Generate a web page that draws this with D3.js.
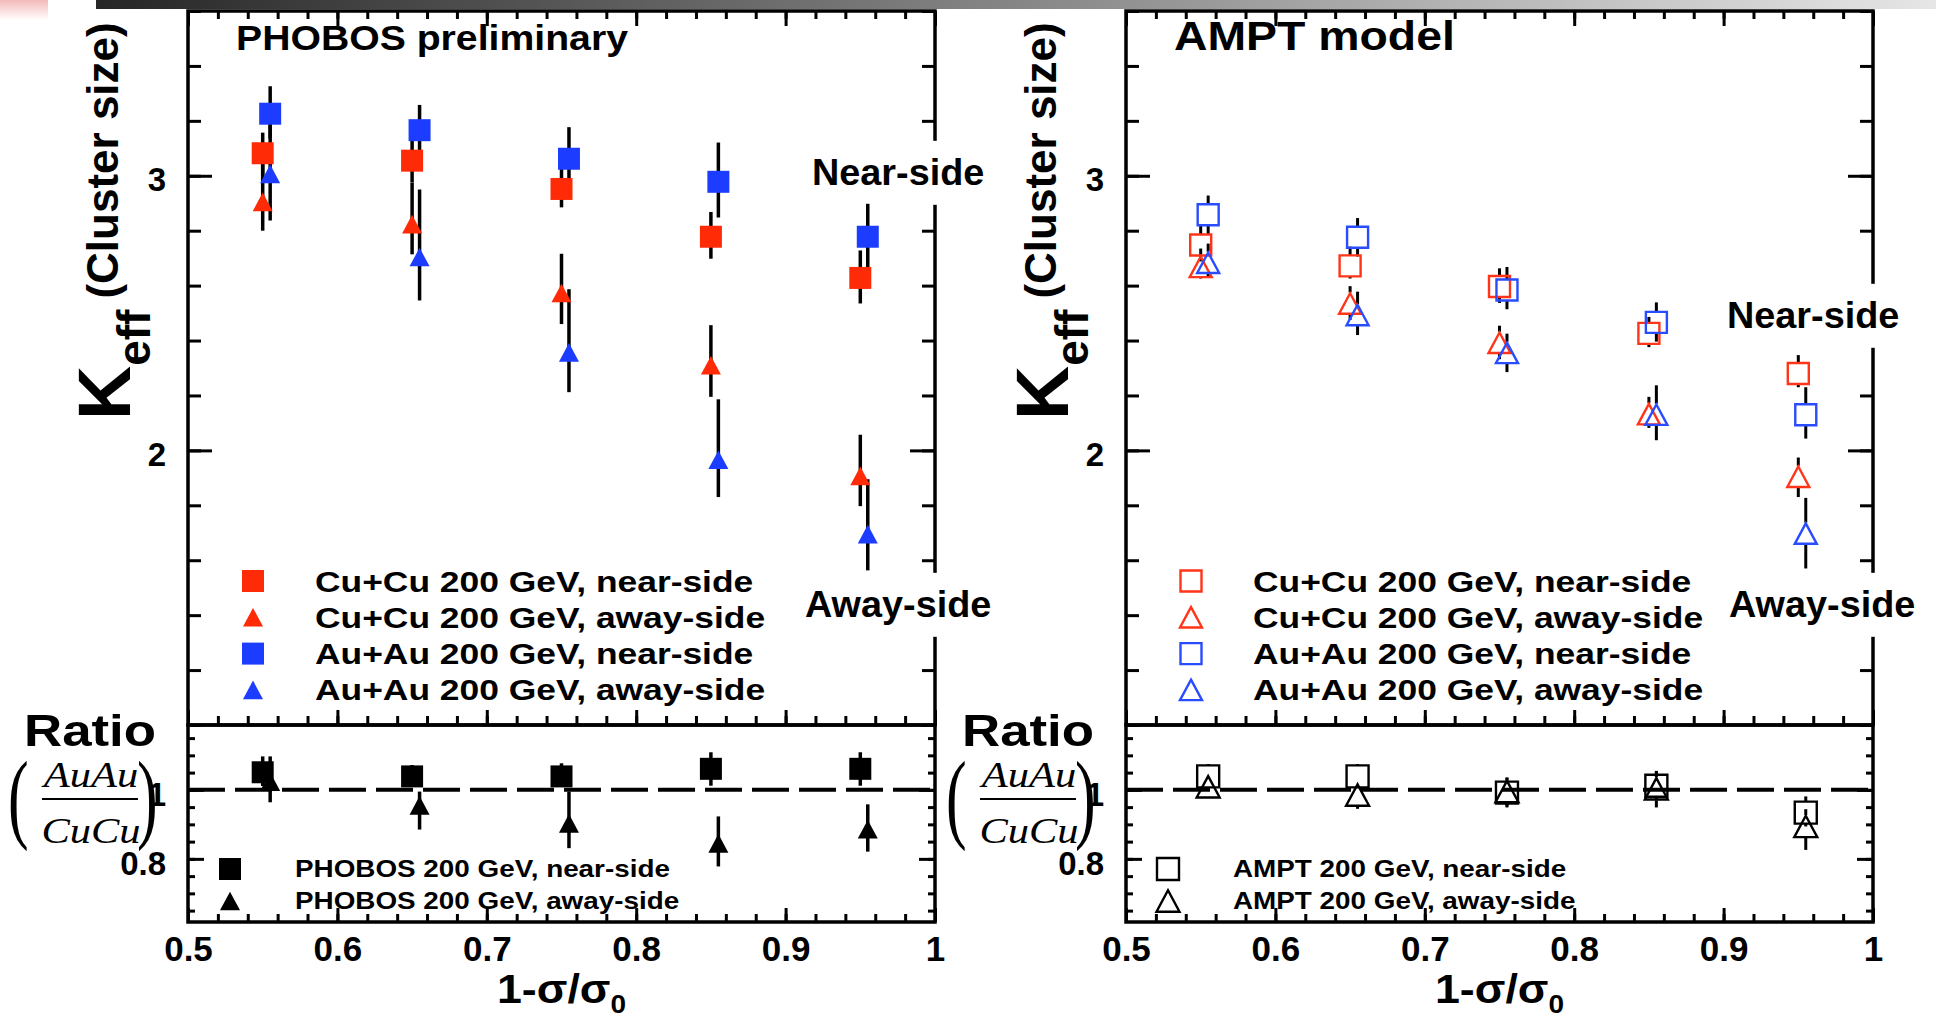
<!DOCTYPE html>
<html>
<head>
<meta charset="utf-8">
<script src="https://cdn.jsdelivr.net/npm/d3@7"></script>
<style>
body { margin: 0; background: #fff; }
svg { display: block; }
</style>
</head>
<body>
<div id="chart"></div>
<script>
// bin centres in 1-sigma/sigma0, Au+Au points sit a little to the right
var xCu = [0.55, 0.65, 0.75, 0.85, 0.95];
var xAu = [0.555, 0.655, 0.755, 0.855, 0.955];

// PHOBOS preliminary, K_eff with asymmetric errors (up / down)
var phoCuNear = [3.082, 3.055, 2.952, 2.778, 2.628];
var phoCuNearUp = [0.075, 0.08, 0.08, 0.09, 0.10];
var phoCuNearDn = [0.08, 0.08, 0.067, 0.08, 0.093];
var phoCuAway = [2.905, 2.824, 2.573, 2.31, 1.907];
var phoCuAwayUp = [0.15, 0.15, 0.143, 0.146, 0.15];
var phoCuAwayDn = [0.105, 0.11, 0.113, 0.115, 0.11];
var phoAuNear = [3.226, 3.166, 3.062, 2.978, 2.778];
var phoAuNearUp = [0.10, 0.092, 0.115, 0.143, 0.12];
var phoAuNearDn = [0.09, 0.09, 0.10, 0.13, 0.12];
var phoAuAway = [3.007, 2.704, 2.357, 1.966, 1.695];
var phoAuAwayUp = [0.22, 0.246, 0.23, 0.22, 0.20];
var phoAuAwayDn = [0.17, 0.158, 0.145, 0.136, 0.132];

// AMPT model
var amptCuNear = [2.748, 2.672, 2.597, 2.426, 2.28];
var amptCuNearUp = [0.07, 0.07, 0.066, 0.06, 0.067];
var amptCuNearDn = [0.06, 0.046, 0.06, 0.05, 0.05];
var amptCuAway = [2.668, 2.535, 2.392, 2.132, 1.904];
var amptCuAwayUp = [0.067, 0.063, 0.062, 0.063, 0.07];
var amptCuAwayDn = [0.042, 0.06, 0.06, 0.05, 0.074];
var amptAuNear = [2.858, 2.776, 2.584, 2.466, 2.13];
var amptAuNearUp = [0.07, 0.07, 0.084, 0.073, 0.10];
var amptAuNearDn = [0.07, 0.07, 0.07, 0.07, 0.087];
var amptAuAway = [2.683, 2.493, 2.355, 2.13, 1.697];
var amptAuAwayUp = [0.07, 0.085, 0.07, 0.107, 0.13];
var amptAuAwayDn = [0.053, 0.073, 0.07, 0.093, 0.127];

// ratios AuAu / CuCu
var phoRatioNear = [1.051, 1.039, 1.039, 1.061, 1.061];
var phoRatioNearUp = [0.046, 0.033, 0.038, 0.048, 0.048];
var phoRatioNearDn = [0.04, 0.03, 0.03, 0.049, 0.049];
var phoRatioAway = [1.024, 0.955, 0.903, 0.845, 0.886];
var phoRatioAwayUp = [0.073, 0.04, 0.092, 0.078, 0.072];
var phoRatioAwayDn = [0.06, 0.07, 0.072, 0.067, 0.065];
var amptRatioNear = [1.039, 1.039, 0.992, 1.012, 0.934];
var amptRatioNearUp = [0.036, 0.036, 0.044, 0.043, 0.047];
var amptRatioNearDn = [0.03, 0.03, 0.04, 0.04, 0.04];
var amptRatioAway = [1.009, 0.985, 0.995, 1.003, 0.894];
var amptRatioAwayUp = [0.03, 0.03, 0.04, 0.05, 0.05];
var amptRatioAwayDn = [0.03, 0.04, 0.046, 0.054, 0.068];

// axis ticks
var kMajor = [2, 3];
var ratioMajor = [0.8, 1];
var xMajor = [0.5, 0.6, 0.7, 0.8, 0.9, 1];

var RED = "#ff2a06", BLUE = "#1c3dff", OPEN_RED = "#ff3418", OPEN_BLUE = "#2a4cff";
var SANS = "'Liberation Sans', Arial, Helvetica, sans-serif";
var SERIF = "'Liberation Serif', 'Times New Roman', serif";

var W = 1936, H = 1019;
var TOP = 11, MID = 725, BOT = 922, PW = 747;

var svg = d3.select("#chart").append("svg").attr("width", W).attr("height", H);

// slide header strip
var defs = svg.append("defs");
var gr = defs.append("linearGradient").attr("id", "strip");
gr.append("stop").attr("offset", "0%").attr("stop-color", "#262626");
gr.append("stop").attr("offset", "100%").attr("stop-color", "#e6e6e6");
var gp = defs.append("linearGradient").attr("id", "pink").attr("x2", 0).attr("y2", 1);
gp.append("stop").attr("offset", "0%").attr("stop-color", "#f3b9b9");
gp.append("stop").attr("offset", "100%").attr("stop-color", "#fff");
svg.append("rect").attr("x", 0).attr("y", 0).attr("width", 48).attr("height", 20).attr("fill", "url(#pink)");
svg.append("rect").attr("x", 96).attr("y", 0).attr("width", W - 96).attr("height", 9).attr("fill", "url(#strip)");

var yK = d3.scaleLinear().domain([1, 3.6]).range([MID, TOP]);
var yR = d3.scaleLinear().domain([0.617, 1.188]).range([BOT, MID]);

var sqSym = { draw: function (c, s) { var r = Math.sqrt(s) / 2; c.rect(-r, -r, 2 * r, 2 * r); } };
var triSym = { draw: function (c, s) { var w = Math.sqrt(s), h = w * 0.93; c.moveTo(0, -h / 2); c.lineTo(w / 2, h / 2); c.lineTo(-w / 2, h / 2); c.closePath(); } };

function mk(shape, size) { return d3.symbol().type(shape == "sq" ? sqSym : triSym).size(size * size)(); }

function txt(parent, s, x, y, o) {
  o = o || {};
  var g = parent.append("g").attr("transform", "translate(" + x + "," + y + ") scale(" + (o.sx || 1) + ",1)");
  var t = g.append("text")
    .attr("text-anchor", o.anchor || "start")
    .style("font-family", o.family || SANS)
    .style("font-weight", o.weight || "bold")
    .style("font-style", o.style || "normal")
    .style("font-size", (o.size || 30) + "px")
    .attr("fill", "#000")
    .text(s);
  if (o.box) {
    var b = t.node().getBBox();
    g.insert("rect", "text").attr("x", b.x - 10).attr("y", b.y - o.box).attr("width", b.width + 20)
      .attr("height", b.height + 2 * o.box).attr("fill", "#fff");
  }
  return g;
}

function series(label, x, y, up, dn, shape, color, size, open) {
  return { label: label, x: x, y: y, up: up, dn: dn, shape: shape, color: color, size: size, open: open };
}

var panels = [
  {
    x0: 188, title: "PHOBOS preliminary", tSize: 35, tSx: 1.12, near: [624, 185], away: [617, 617],
    upper: [
      series("Cu+Cu 200 GeV, near-side", xCu, phoCuNear, phoCuNearUp, phoCuNearDn, "sq", RED, 22, false),
      series("Cu+Cu 200 GeV, away-side", xCu, phoCuAway, phoCuAwayUp, phoCuAwayDn, "tri", RED, 20, false),
      series("Au+Au 200 GeV, near-side", xAu, phoAuNear, phoAuNearUp, phoAuNearDn, "sq", BLUE, 22, false),
      series("Au+Au 200 GeV, away-side", xAu, phoAuAway, phoAuAwayUp, phoAuAwayDn, "tri", BLUE, 20, false)
    ],
    lower: [
      series("PHOBOS 200 GeV, near-side", xCu, phoRatioNear, phoRatioNearUp, phoRatioNearDn, "sq", "#000", 22, false),
      series("PHOBOS 200 GeV, away-side", xAu, phoRatioAway, phoRatioAwayUp, phoRatioAwayDn, "tri", "#000", 20, false)
    ]
  },
  {
    x0: 1126, title: "AMPT model", tSize: 40, tSx: 1.16, near: [601, 328], away: [603, 617],
    upper: [
      series("Cu+Cu 200 GeV, near-side", xCu, amptCuNear, amptCuNearUp, amptCuNearDn, "sq", OPEN_RED, 21, true),
      series("Cu+Cu 200 GeV, away-side", xCu, amptCuAway, amptCuAwayUp, amptCuAwayDn, "tri", OPEN_RED, 22, true),
      series("Au+Au 200 GeV, near-side", xAu, amptAuNear, amptAuNearUp, amptAuNearDn, "sq", OPEN_BLUE, 21, true),
      series("Au+Au 200 GeV, away-side", xAu, amptAuAway, amptAuAwayUp, amptAuAwayDn, "tri", OPEN_BLUE, 22, true)
    ],
    lower: [
      series("AMPT 200 GeV, near-side", xAu, amptRatioNear, amptRatioNearUp, amptRatioNearDn, "sq", "#000", 22, true),
      series("AMPT 200 GeV, away-side", xAu, amptRatioAway, amptRatioAwayUp, amptRatioAwayDn, "tri", "#000", 23, true)
    ]
  }
];

function axisG(g, axis, tx, ty) {
  var a = g.append("g").attr("transform", "translate(" + tx + "," + ty + ")").call(axis);
  a.select(".domain").remove();
  a.selectAll("line").attr("stroke", "#000").attr("stroke-width", 3);
  a.selectAll("text").attr("fill", "#000").style("font-family", SANS).style("font-weight", "bold");
  return a;
}

function drawSeries(g, s, x, y) {
  var gap = s.open ? s.size / 2 : 0;
  var eb = g.append("g").attr("stroke", "#000").attr("stroke-width", s.open ? 3 : 3.5);
  s.y.forEach(function (v, i) {
    var cx = x(s.x[i]), cy = y(v), yt = y(v + s.up[i]), yb = y(v - s.dn[i]);
    if (cy - gap > yt) eb.append("line").attr("x1", cx).attr("x2", cx).attr("y1", yt).attr("y2", cy - gap);
    if (yb > cy + gap) eb.append("line").attr("x1", cx).attr("x2", cx).attr("y1", cy + gap).attr("y2", yb);
  });
}

function drawMarkers(g, s, x, y) {
  g.append("g").selectAll("path").data(s.y).join("path")
    .attr("transform", function (v, i) { return "translate(" + x(s.x[i]) + "," + y(v) + ")"; })
    .attr("d", mk(s.shape, s.size))
    .attr("fill", s.open ? "none" : s.color)
    .attr("stroke", s.open ? s.color : "none")
    .attr("stroke-width", 2.4);
}

function legendMarker(g, s, cx, cy) {
  g.append("path").attr("transform", "translate(" + cx + "," + cy + ")")
    .attr("d", mk(s.shape, s.size))
    .attr("fill", s.open ? "none" : s.color)
    .attr("stroke", s.open ? s.color : "none")
    .attr("stroke-width", 2.4);
}

panels.forEach(function (p) {
  var x = d3.scaleLinear().domain([0.5, 1]).range([p.x0, p.x0 + PW]);
  var x1 = p.x0 + PW;
  var g = svg.append("g");

  // x ticks: top and bottom of upper pad, bottom of ratio pad
  var xMinor = x.ticks(25);
  axisG(g, d3.axisTop(x).tickValues(xMinor).tickSize(-8).tickFormat(""), 0, TOP);
  axisG(g, d3.axisTop(x).tickValues(xMajor).tickSize(-15).tickFormat(""), 0, TOP);
  axisG(g, d3.axisBottom(x).tickValues(xMinor).tickSize(-9).tickFormat(""), 0, MID);
  axisG(g, d3.axisBottom(x).tickValues(xMajor).tickSize(-15).tickFormat(""), 0, MID);
  axisG(g, d3.axisBottom(x).tickValues(xMinor).tickSize(-8).tickFormat(""), 0, BOT);
  var xl = axisG(g, d3.axisBottom(x).tickValues(xMajor).tickSize(-14).tickPadding(14).tickFormat(d3.format("~g")), 0, BOT);
  xl.selectAll("text").style("font-size", "35px");

  // y ticks, upper pad
  axisG(g, d3.axisLeft(yK).tickValues(yK.ticks(13)).tickSize(-13).tickFormat(""), p.x0, 0);
  var yl = axisG(g, d3.axisLeft(yK).tickValues(kMajor).tickSize(-24).tickPadding(22).tickFormat(d3.format("d")), p.x0, 0);
  yl.selectAll("text").style("font-size", "33px").attr("dy", "0.46em");
  axisG(g, d3.axisRight(yK).tickValues(yK.ticks(13)).tickSize(-13).tickFormat(""), x1, 0);
  axisG(g, d3.axisRight(yK).tickValues(kMajor).tickSize(-25).tickFormat(""), x1, 0);

  // y ticks, ratio pad
  axisG(g, d3.axisLeft(yR).tickValues(yR.ticks(12)).tickSize(-7).tickFormat(""), p.x0, 0);
  var rl = axisG(g, d3.axisLeft(yR).tickValues(ratioMajor).tickSize(-16).tickPadding(22).tickFormat(d3.format("~g")), p.x0, 0);
  rl.selectAll("text").style("font-size", "33px").attr("dy", "0.46em");
  axisG(g, d3.axisRight(yR).tickValues(yR.ticks(12)).tickSize(-7).tickFormat(""), x1, 0);
  axisG(g, d3.axisRight(yR).tickValues(ratioMajor).tickSize(-16).tickFormat(""), x1, 0);

  // pad frames
  g.append("rect").attr("x", p.x0).attr("y", TOP).attr("width", PW).attr("height", MID - TOP)
    .attr("fill", "none").attr("stroke", "#000").attr("stroke-width", 3.5);
  g.append("rect").attr("x", p.x0).attr("y", MID).attr("width", PW).attr("height", BOT - MID)
    .attr("fill", "none").attr("stroke", "#000").attr("stroke-width", 3.5);

  // unity line
  g.append("line").attr("x1", x(0.5)).attr("x2", x(1)).attr("y1", yR(1)).attr("y2", yR(1))
    .attr("stroke", "#000").attr("stroke-width", 4).attr("stroke-dasharray", "37,10");

  // labels sitting on the right frame, with white boxes
  txt(g, "Near-side", p.x0 + p.near[0], p.near[1], { size: 36, sx: 1.05, box: 12 });
  txt(g, "Away-side", p.x0 + p.away[0], p.away[1], { size: 36, sx: 1.05, box: 12 });
  txt(g, p.title, p.x0 + 48, 50, { size: p.tSize, sx: p.tSx });

  // data
  p.upper.forEach(function (s) { drawSeries(g, s, x, yK); });
  p.upper.forEach(function (s) { drawMarkers(g, s, x, yK); });
  p.lower.forEach(function (s) { drawSeries(g, s, x, yR); });
  p.lower.forEach(function (s) { drawMarkers(g, s, x, yR); });

  // legends
  p.upper.forEach(function (s, i) {
    var cy = 581 + i * 36.3;
    legendMarker(g, s, p.x0 + 65, cy);
    txt(g, s.label, p.x0 + 127, cy + 10.5, { size: 30, sx: 1.18 });
  });
  p.lower.forEach(function (s, i) {
    var cy = 869 + i * 32;
    legendMarker(g, s, p.x0 + 42, cy);
    txt(g, s.label, p.x0 + 107, cy + 8, { size: 24, sx: 1.16 });
  });

  // y title: K_eff (Cluster size)
  var kt = g.append("text").attr("transform", "translate(" + (p.x0 - 58) + ",420) rotate(-90)")
    .style("font-family", SANS).style("font-weight", "bold").attr("fill", "#000");
  kt.append("tspan").style("font-size", "75px").text("K");
  kt.append("tspan").style("font-size", "46px").attr("dy", 20).text("eff");
  kt.append("tspan").style("font-size", "44px").attr("dy", -32).attr("dx", 11).text("(Cluster size)");

  // ratio title
  txt(g, "Ratio", p.x0 - 98, 746, { size: 44, sx: 1.2, anchor: "middle" });
  txt(g, "AuAu", p.x0 - 97, 787, { size: 36, sx: 1.18, anchor: "middle", family: SERIF, weight: "normal", style: "italic" });
  g.append("line").attr("x1", p.x0 - 146).attr("x2", p.x0 - 50).attr("y1", 799).attr("y2", 799)
    .attr("stroke", "#000").attr("stroke-width", 2);
  txt(g, "CuCu", p.x0 - 97, 843, { size: 36, sx: 1.18, anchor: "middle", family: SERIF, weight: "normal", style: "italic" });
  txt(g, "(", p.x0 - 180, 830, { size: 100, sx: 0.62, family: SERIF, weight: "normal" });
  txt(g, ")", p.x0 - 51, 830, { size: 100, sx: 0.62, family: SERIF, weight: "normal" });

  // x title
  var xt = g.append("text").attr("transform", "translate(" + (p.x0 + PW / 2) + ",1003) scale(1.12,1)")
    .attr("text-anchor", "middle").style("font-family", SANS).style("font-weight", "bold").attr("fill", "#000");
  xt.append("tspan").style("font-size", "40px").text("1-σ/σ");
  xt.append("tspan").style("font-size", "25px").attr("dy", 10).text("0");
});
</script>
</body>
</html>
